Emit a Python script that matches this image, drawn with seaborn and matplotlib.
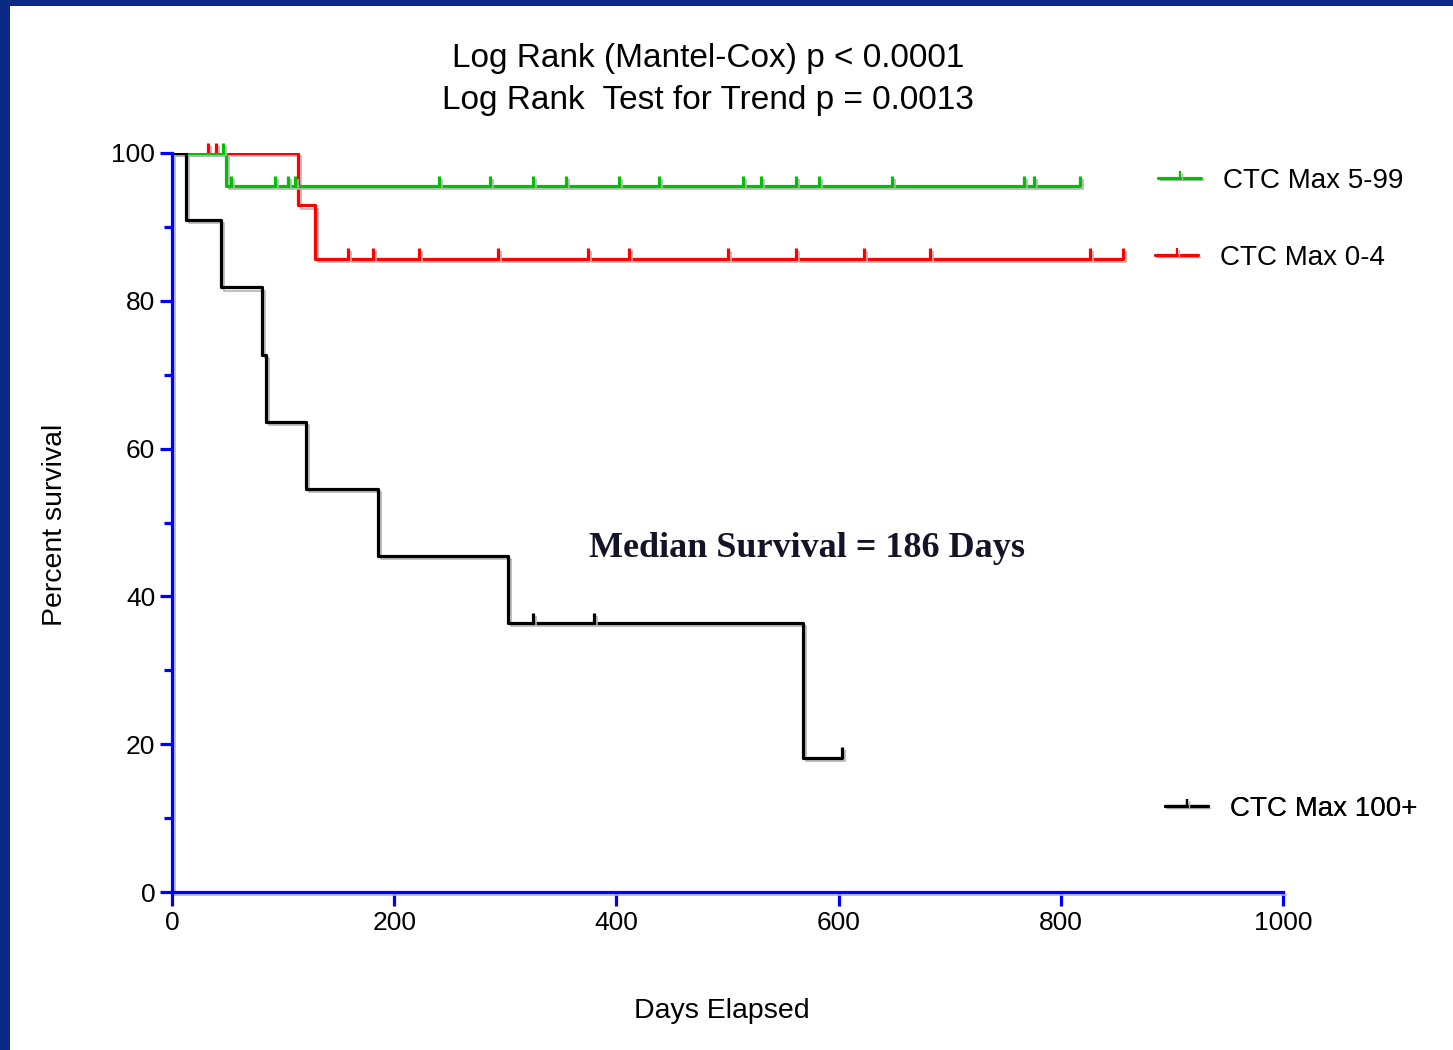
import matplotlib
matplotlib.use("Agg")
import matplotlib.pyplot as plt
import matplotlib.patheffects as pe
from matplotlib.path import Path
from matplotlib.lines import Line2D
from matplotlib.patches import Rectangle
import seaborn as sns

# ---------------- data ----------------
title_line1 = "Log Rank (Mantel-Cox) p < 0.0001"
title_line2 = "Log Rank  Test for Trend p = 0.0013"
x_label = "Days Elapsed"
y_label = "Percent survival"
x_ticks = [0, 200, 400, 600, 800, 1000]
y_ticks = [0, 20, 40, 60, 80, 100]
y_minor_ticks = [10, 30, 50, 70, 90]
annotation = "Median Survival = 186 Days"

name_599 = "CTC Max 5-99"
name_04 = "CTC Max 0-4"
name_100 = "CTC Max 100+"

# CTC Max 5-99 (green)
t_599 = [0, 49, 817]
s_599 = [100, 95.5, 95.5]
cens_t_599 = [46, 53, 93, 104, 111, 240, 286, 325, 355, 402, 438, 514, 530,
              562, 582, 648, 767, 776, 817]
cens_s_599 = [100, 95.5, 95.5, 95.5, 95.5, 95.5, 95.5, 95.5, 95.5, 95.5, 95.5,
              95.5, 95.5, 95.5, 95.5, 95.5, 95.5, 95.5, 95.5]

# CTC Max 0-4 (red)
t_04 = [0, 113, 129, 856]
s_04 = [100, 92.9, 85.7, 85.7]
cens_t_04 = [32, 40, 158, 181, 222, 293, 374, 411, 500, 562, 623, 682, 826, 856]
cens_s_04 = [100, 100, 85.7, 85.7, 85.7, 85.7, 85.7, 85.7, 85.7, 85.7, 85.7,
             85.7, 85.7, 85.7]

# CTC Max 100+ (black)
t_100 = [0, 13, 44, 81, 85, 121, 185, 302, 568, 603]
s_100 = [100, 90.9, 81.8, 72.7, 63.6, 54.5, 45.5, 36.4, 18.2, 18.2]
cens_t_100 = [325, 380, 603]
cens_s_100 = [36.4, 36.4, 18.2]

# ---------------- style ----------------
sns.set_style("white")
plt.rcParams["font.family"] = ["Liberation Sans", "DejaVu Sans"]
plt.rcParams["text.color"] = "black"
plt.rcParams["axes.labelcolor"] = "black"
plt.rcParams["xtick.labelcolor"] = "black"
plt.rcParams["ytick.labelcolor"] = "black"

GREEN = "#00c000"
RED = "#ff0000"
BLACK = "#000000"
BLUE = "#0000ff"
NAVY = "#0a2a86"

fig = plt.figure(figsize=(14.53, 10.5), dpi=100)
fig.patch.set_facecolor("white")
ax = fig.add_axes([172 / 1453, 1 - 892 / 1050, (1283 - 172) / 1453, (892 - 153) / 1050])
ax.set_facecolor("white")

cens_marker = Path([(0, 0), (0, 1)], [Path.MOVETO, Path.LINETO])
shadow = [pe.SimpleLineShadow(offset=(2.2, -2.2), shadow_color="#b4b4b4",
                              alpha=1.0, linewidth=1.2), pe.Normal()]

curves = [
    (t_04, s_04, cens_t_04, cens_s_04, RED),
    (t_599, s_599, cens_t_599, cens_s_599, GREEN),
    (t_100, s_100, cens_t_100, cens_s_100, BLACK),
]
for t, s, ct, cs, col in curves:
    sns.lineplot(x=t, y=s, drawstyle="steps-post", estimator=None, sort=False,
                 color=col, linewidth=2.3, ax=ax, path_effects=shadow)
    ax.plot(ct, cs, linestyle="none", marker=cens_marker, markersize=15,
            markeredgewidth=2.3, color=col, clip_on=False,
            path_effects=shadow)

ax.set_xlim(0, 1000)
ax.set_ylim(0, 100)
ax.set_xticks(x_ticks)
ax.set_yticks(y_ticks)
ax.set_yticks(y_minor_ticks, minor=True)

for side in ["top", "right"]:
    ax.spines[side].set_visible(False)
for side in ["left", "bottom"]:
    ax.spines[side].set_color(BLUE)
    ax.spines[side].set_linewidth(2.3)
    ax.spines[side].set_path_effects(
        [pe.SimpleLineShadow(offset=(2.2, -2.2), shadow_color="#b4b4b4",
                             alpha=1.0, linewidth=1.2), pe.Normal()])
    ax.spines[side].set_zorder(3)

ax.tick_params(axis="x", which="major", direction="out", length=10, width=2.3,
               color=BLUE, labelcolor="black", labelsize=19, pad=4, bottom=True)
ax.tick_params(axis="y", which="major", direction="out", length=8.6, width=2.3,
               color=BLUE, labelcolor="black", labelsize=19, pad=3.5, left=True)
ax.tick_params(axis="y", which="minor", direction="out", length=5.8, width=2.3,
               color=BLUE, left=True)

ax.set_xlabel(x_label, fontsize=20.5, va="center", color="black")
ax.set_ylabel(y_label, fontsize=20.5, va="center", color="black")
ax.xaxis.set_label_coords((722 - 172) / 1111, (892 - 1011) / 739)
ax.yaxis.set_label_coords((55 - 172) / 1111, (892 - 525) / 739)

# title
fig.text(708 / 1453, 1 - 58 / 1050, title_line1, ha="center", va="center",
         fontsize=24, color="black")
fig.text(708 / 1453, 1 - 100 / 1050, title_line2, ha="center", va="center",
         fontsize=24, color="black")

# annotation
ax.text(572, 46.5, annotation, ha="center", va="center", fontsize=26,
        fontweight="bold", family=["Liberation Serif", "DejaVu Serif"],
        color="#141428")

# legends
def add_legend(name, col, x_px, y_px):
    h = Line2D([], [], color=col, linewidth=2.3, marker=cens_marker,
               markersize=11, markeredgewidth=1.6,
               path_effects=[pe.SimpleLineShadow(offset=(1.5, -1.5), shadow_color="#b4b4b4",
                                                 alpha=1.0, linewidth=1.0), pe.Normal()])
    leg = ax.legend(handles=[h], labels=[name], loc="center left",
                    bbox_to_anchor=(x_px / 1453, 1 - y_px / 1050),
                    bbox_transform=fig.transFigure, frameon=False, fontsize=20,
                    handlelength=1.55, handletextpad=0.8, borderpad=0,
                    borderaxespad=0, numpoints=1, labelcolor="black")
    ax.add_artist(leg)

add_legend(name_599, GREEN, 1158, 181)
add_legend(name_04, RED, 1155, 258)
add_legend(name_100, BLACK, 1165, 809)

# slide border
fig.patches.append(Rectangle((0, 0), 10 / 1453, 1, transform=fig.transFigure,
                             facecolor=NAVY, edgecolor="none", zorder=10))
fig.patches.append(Rectangle((0, 1 - 6 / 1050), 1, 6 / 1050, transform=fig.transFigure,
                             facecolor=NAVY, edgecolor="none", zorder=10))

fig.savefig("out.png", dpi=100, facecolor="white")
